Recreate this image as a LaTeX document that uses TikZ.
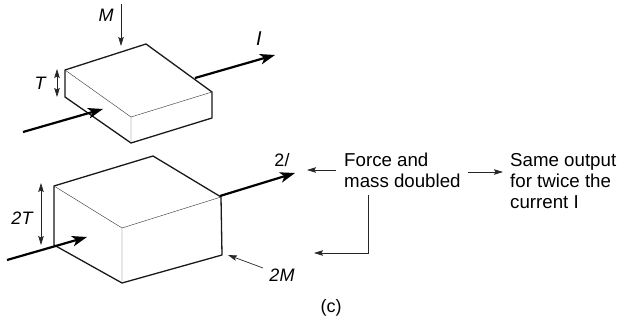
\documentclass[tikz,border=0pt]{standalone}
\usepackage{fontspec}
\setmainfont{Liberation Sans}
\usetikzlibrary{arrows.meta}
\tikzset{
  heavy/.style={line width=1.3pt,black!90},
  hair/.style={line width=0.45pt,black!75},
  current/.style={line width=2.2pt,-{Stealth[length=15pt,width=10.5pt,inset=4pt]}},
  thin arrow/.style={line width=0.7pt,black!85,-{Stealth[length=9pt,width=5.5pt,inset=1.5pt]}},
  both arrow/.style={line width=0.7pt,black!85,{Stealth[length=9pt,width=5.5pt,inset=1.5pt]}-{Stealth[length=9pt,width=5.5pt,inset=1.5pt]}},
  label/.style={inner sep=0pt,font=\fontsize{18pt}{21pt}\selectfont\itshape},
  say/.style={inner sep=0pt,align=left,font=\fontsize{18.7pt}{21pt}\selectfont}
}
\begin{document}
\begin{tikzpicture}[x=1pt,y=-1pt]
\useasboundingbox (0,0) rectangle (622,320);
% named corners, upper box
\coordinate (a1) at (65,70);
\coordinate (a2) at (146,44);
\coordinate (a3) at (212,92);
\coordinate (a4) at (131,117);
\coordinate (a5) at (65,97);
\coordinate (a6) at (131,143);
\coordinate (a7) at (212,118);
% named corners, lower box
\coordinate (b1) at (54,186);
\coordinate (b2) at (153,156);
\coordinate (b3) at (221,197);
\coordinate (b4) at (122,228);
\coordinate (b5) at (54,245);
\coordinate (b6) at (122,283);
\coordinate (b7) at (222,255);
% free ends
\coordinate (i1s) at (23,132); \coordinate (i1e) at (103,109);
\coordinate (o1s) at (195,78); \coordinate (o1e) at (275,55);
\coordinate (ms) at (121,4);   \coordinate (me) at (121,46);
\coordinate (ts) at (57,69);   \coordinate (te) at (57,97);
\coordinate (i2s) at (7,260);  \coordinate (i2e) at (87,237);
\coordinate (o2s) at (220,196);\coordinate (o2e) at (295,173);
\coordinate (tts) at (41,183); \coordinate (tte) at (41,245);
\coordinate (mms) at (263,268);\coordinate (mme) at (228,255);
\coordinate (f1s) at (336,170);\coordinate (f1e) at (307,170);
\coordinate (f2s) at (468,172);\coordinate (f2e) at (503,172);
\coordinate (f3s) at (368,195);\coordinate (f3m) at (368,253);\coordinate (f3e) at (314,253);
% upper box
\draw[heavy,line join=round] (a1) -- (a2) -- (a3) -- (a7) -- (a6) -- (a5) -- cycle;
\draw[hair] (a1) -- (a4) -- (a3) (a4) -- (a6);
% lower box
\draw[heavy,line join=round] (b1) -- (b2) -- (b3) -- (b7) -- (b6) -- (b5) -- cycle;
\draw[hair] (b1) -- (b4) -- (b3) (b4) -- (b6);
% current arrows
\draw[current] (i1s) -- (i1e);
\draw[current] (o1s) -- (o1e);
\draw[current] (i2s) -- (i2e);
\draw[current] (o2s) -- (o2e);
% dimension and force arrows
\draw[thin arrow] (ms) -- (me);
\draw[both arrow] (ts) -- (te);
\draw[both arrow] (tts) -- (tte);
\draw[thin arrow] (mms) -- (mme);
\draw[thin arrow] (f1s) -- (f1e);
\draw[thin arrow] (f2s) -- (f2e);
\draw[thin arrow] (f3s) -- (f3m) -- (f3e);
% labels
\node[label] (lm) at (106,15) {M};
\node[label] (lt) at (40,83) {T};
\node[label,font=\fontsize{20pt}{21pt}\selectfont\itshape] (li) at (259,39) {I};
\node[label] (l2t) at (22,218) {2T};
\node[label] (l2m) at (282,275) {2M};
\node[say,font=\fontsize{18pt}{21pt}\selectfont] (l2i) at (282,160) {2/};
\node[say,anchor=north west] (force) at (344,153) {Force and\\mass doubled};
\node[say,anchor=north west] (same) at (510,153) {Same output\\for twice the\\current I};
\node[say,font=\fontsize{18pt}{21pt}\selectfont] (cap) at (331,308) {(c)};
\end{tikzpicture}
\end{document}
